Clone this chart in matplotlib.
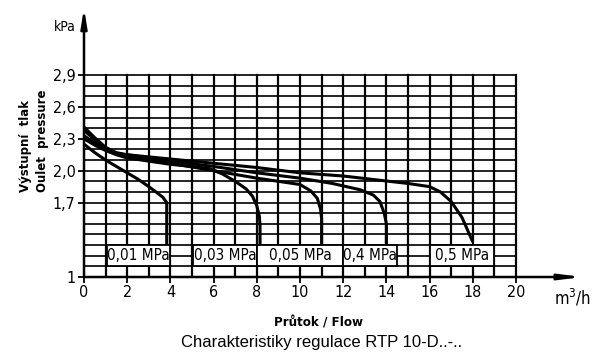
import matplotlib
matplotlib.use("Agg")
import matplotlib.pyplot as plt
from matplotlib.patches import Rectangle

plt.rcParams['mathtext.default'] = 'regular'
COND = dict(family='DejaVu Sans', fontstretch='condensed')

# outlet pressure curves (flow m3/h, pressure)
flow_001 = [0, 0.5, 1, 1.5, 2, 2.5, 3, 3.4, 3.65, 3.83, 3.83]
p_001 = [2.25, 2.17, 2.10, 2.04, 1.98, 1.92, 1.85, 1.79, 1.75, 1.70, 1.31]

flow_003 = [0, 0.5, 1, 1.5, 2, 3, 4, 5, 5.8, 6.4, 7.0, 7.5, 7.8, 8.0, 8.12, 8.15, 8.15]
p_003 = [2.30, 2.24, 2.19, 2.15, 2.12, 2.09, 2.06, 2.04, 2.02, 1.97, 1.90, 1.83, 1.76, 1.67, 1.57, 1.48, 1.31]

flow_005 = [0, 0.5, 1, 1.5, 2, 4, 6, 8, 9, 10, 10.5, 10.8, 10.95, 11.0, 11.0]
p_005 = [2.33, 2.26, 2.20, 2.16, 2.14, 2.07, 2.00, 1.93, 1.90, 1.87, 1.81, 1.74, 1.64, 1.55, 1.31]

flow_04 = [0, 0.5, 1, 1.5, 2, 4, 6, 8, 10, 11.5, 12.8, 13.4, 13.7, 13.9, 14.0, 14.0]
p_04 = [2.38, 2.29, 2.21, 2.16, 2.15, 2.09, 2.04, 1.98, 1.93, 1.88, 1.82, 1.77, 1.71, 1.60, 1.50, 1.31]

flow_05 = [0, 0.5, 1, 1.5, 2, 4, 6, 8, 10, 12, 13.7, 15, 16, 16.5, 17, 17.5, 18]
p_05 = [2.41, 2.31, 2.22, 2.17, 2.15, 2.11, 2.07, 2.03, 1.98, 1.95, 1.91, 1.88, 1.85, 1.80, 1.71, 1.56, 1.33]

curve_labels = ['0,01 MPa', '0,03 MPa', '0,05 MPa', '0,4 MPa', '0,5 MPa']
x_ticks = [0, 2, 4, 6, 8, 10, 12, 14, 16, 18, 20]
y_ticks = [1, 1.7, 2.0, 2.3, 2.6, 2.9]
y_ticklabels = ['1', '1,7', '2,0', '2,3', '2,6', '2,9']

# label box spans on the flow axis
boxes = [(1.05, 4.0), (5.05, 8.0), (8.0, 12.0), (12.0, 14.5), (16.0, 19.0)]

W, H = 593, 354
fig = plt.figure(figsize=(W / 100, H / 100), dpi=100)
ax = fig.add_axes([84 / W, 77 / H, 23.1 * 21.6 / W, 2.55 * 106.3 / H])
ax.set_xlim(0, 23.1)
ax.set_ylim(1, 3.55)
for s in ax.spines.values():
    s.set_visible(False)

# grid
for i in range(1, 20):
    y = 1 + i / 10
    ax.plot([0, 20], [y, y], color='#111111', lw=1.3, zorder=1)
for x in range(1, 21):
    ax.plot([x, x], [1, 2.9], color='black', lw=1.6, zorder=1)

# curves
for fx, py in [(flow_001, p_001), (flow_003, p_003), (flow_005, p_005),
               (flow_04, p_04), (flow_05, p_05)]:
    ax.plot(fx, py, color='black', lw=2.2, zorder=3, solid_capstyle='butt')

# label boxes
for (x0, x1), lab in zip(boxes, curve_labels):
    ax.add_patch(Rectangle((x0, 1.1), x1 - x0, 0.2, facecolor='white',
                           edgecolor='black', lw=1.3, zorder=4))
    ax.text((x0 + x1) / 2, 1.2, lab, ha='center', va='center',
            fontsize=11, zorder=5, **COND)

# axes with arrows
ax.annotate('', xy=(23.1, 1), xytext=(0, 1),
            arrowprops=dict(arrowstyle='-|>,head_length=1.3,head_width=0.16',
                            color='black', lw=1.8, shrinkA=0, shrinkB=0), zorder=6)
ax.annotate('', xy=(0, 3.53), xytext=(0, 1),
            arrowprops=dict(arrowstyle='-|>,head_length=1.1,head_width=0.18',
                            color='black', lw=1.8, shrinkA=0, shrinkB=0), zorder=6)

ax.set_xticks(x_ticks)
ax.set_xticklabels([str(v) for v in x_ticks], fontsize=11.5, **COND)
ax.set_yticks(y_ticks)
ax.set_yticklabels(y_ticklabels, fontsize=11.5, **COND)
ax.tick_params(direction='out', length=4, width=1.3, pad=2)

ax.text(-0.4, 3.35, 'kPa', ha='right', va='center', fontsize=10, **COND)
ax.text(22.6, 0.8, 'm$^3$/h', ha='center', va='center', fontsize=12, **COND)

fig.text(25 / W, 1 - 192 / H, 'Výstupní  tlak', rotation=90, rotation_mode='anchor',
         ha='left', va='center', fontsize=8.5, fontweight='bold')
fig.text(42 / W, 1 - 192 / H, 'Oulet  pressure', rotation=90, rotation_mode='anchor',
         ha='left', va='center', fontsize=8.5, fontweight='bold')

fig.text(318 / W, 1 - 323 / H, 'Průtok / Flow', ha='center', va='center',
         fontsize=9.5, fontweight='bold', **COND)
fig.text(322 / W, 1 - 343 / H, 'Charakteristiky regulace RTP 10-D..-..',
         ha='center', va='center', family=['Liberation Sans', 'DejaVu Sans'], fontsize=12)

fig.savefig('out.png', dpi=100)
